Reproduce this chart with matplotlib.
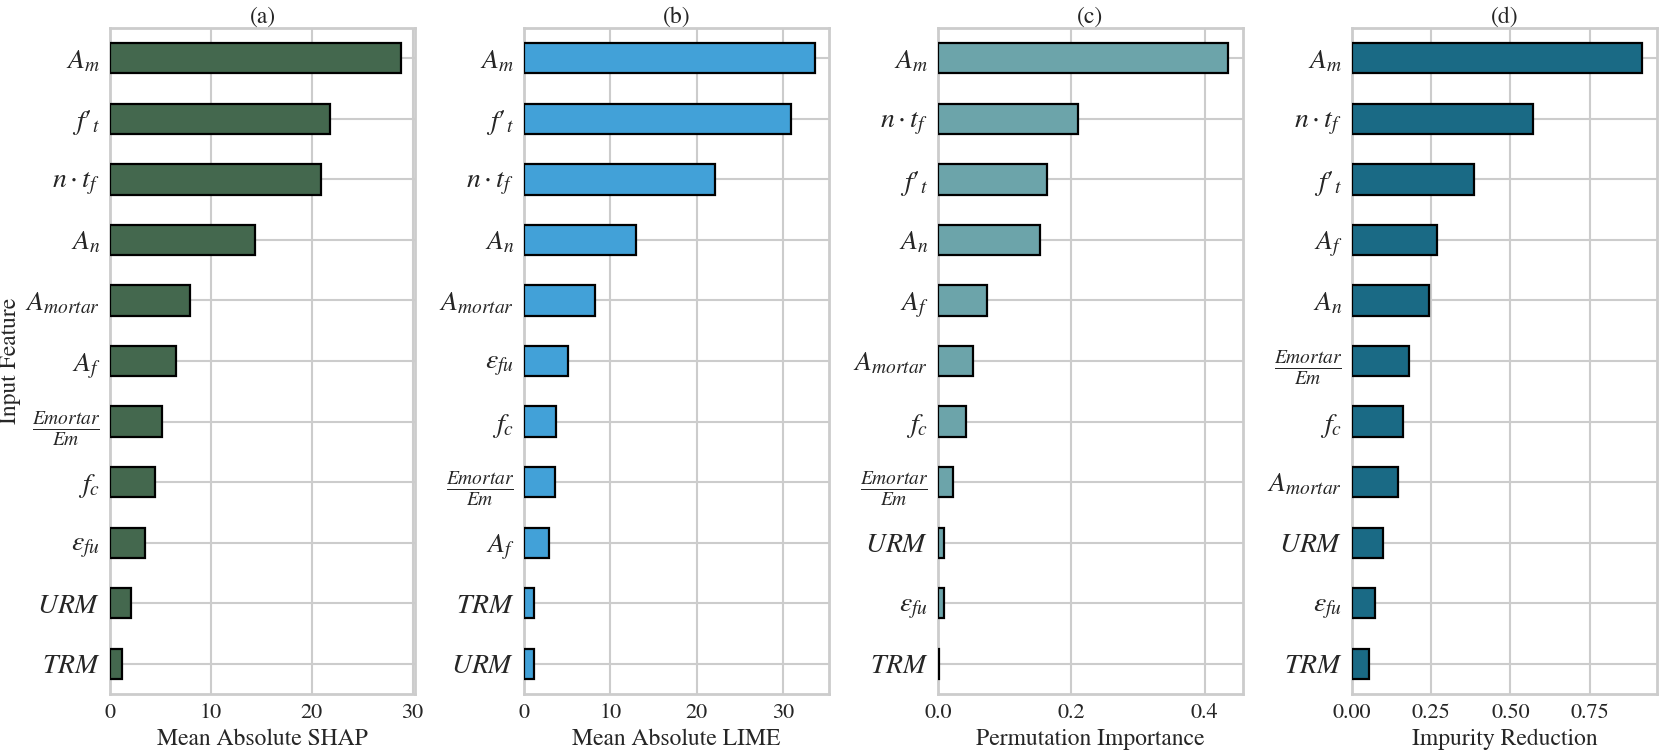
"""Four-panel feature importance comparison (SHAP, LIME, permutation, impurity)."""

import matplotlib

matplotlib.use("Agg")
import matplotlib.pyplot as plt
import seaborn as sns

FT = r"$f\prime{}_t$"

# labels and values, listed top to bottom as they appear in each panel
shap_features = [r"$A_m$", FT, r"$n \cdot t_f$", r"$A_n$", r"$A_{mortar}$", r"$A_f$",
                 r"$\frac{Emortar}{Em}$", r"$f_c$", r"$\varepsilon_{fu}$", r"$URM$", r"$TRM$"]
shap_values = [28.8, 21.8, 20.9, 14.4, 7.9, 6.5, 5.2, 4.5, 3.5, 2.1, 1.15]

lime_features = [r"$A_m$", FT, r"$n \cdot t_f$", r"$A_n$", r"$A_{mortar}$",
                 r"$\varepsilon_{fu}$", r"$f_c$", r"$\frac{Emortar}{Em}$", r"$A_f$", r"$TRM$", r"$URM$"]
lime_values = [33.6, 30.9, 22.1, 12.9, 8.2, 5.05, 3.7, 3.55, 2.9, 1.2, 1.15]

perm_features = [r"$A_m$", r"$n \cdot t_f$", FT, r"$A_n$", r"$A_f$", r"$A_{mortar}$",
                 r"$f_c$", r"$\frac{Emortar}{Em}$", r"$URM$", r"$\varepsilon_{fu}$", r"$TRM$"]
perm_values = [0.436, 0.21, 0.164, 0.153, 0.073, 0.052, 0.042, 0.023, 0.0095, 0.0085, 0.002]

imp_features = [r"$A_m$", r"$n \cdot t_f$", FT, r"$A_f$", r"$A_n$", r"$\frac{Emortar}{Em}$",
                r"$f_c$", r"$A_{mortar}$", r"$URM$", r"$\varepsilon_{fu}$", r"$TRM$"]
imp_values = [0.917, 0.573, 0.384, 0.267, 0.242, 0.181, 0.162, 0.145, 0.097, 0.073, 0.053]

panels = [
    ("(a)", "Mean Absolute SHAP", shap_features, shap_values, "#44684e"),
    ("(b)", "Mean Absolute LIME", lime_features, lime_values, "#42a1d8"),
    ("(c)", "Permutation Importance", perm_features, perm_values, "#6ca4aa"),
    ("(d)", "Impurity Reduction", imp_features, imp_values, "#1a6a85"),
]

sns.set_style("whitegrid")
plt.rcParams["font.family"] = ["STIXGeneral", "Liberation Serif", "DejaVu Serif"]
plt.rcParams["mathtext.fontset"] = "stix"
plt.rcParams["axes.edgecolor"] = "#cccccc"
plt.rcParams["axes.linewidth"] = 2.0
plt.rcParams["grid.color"] = "#cccccc"
plt.rcParams["grid.linewidth"] = 1.5

fig, axes = plt.subplots(1, 4, figsize=(16.61, 7.51), dpi=100)
fig.subplots_adjust(left=0.0662, right=0.9976, top=0.9627, bottom=0.0759, wspace=0.357)

for ax, (title, xlabel, feats, vals, color) in zip(axes, panels):
    y = list(range(len(feats)))[::-1]
    ax.barh(y, vals, height=0.5, color=color, edgecolor="black", linewidth=1.6, zorder=3)
    ax.set_yticks(y)
    ax.set_yticklabels(feats, fontsize=20)
    ax.set_ylim(-0.5, len(feats) - 0.5)
    ax.set_xlim(0, max(vals) * 1.05)
    ax.tick_params(axis="x", labelsize=16)
    ax.set_title(title, fontsize=17, pad=4)
    ax.set_xlabel(xlabel, fontsize=17)
    ax.set_axisbelow(True)

axes[0].set_ylabel("Input Feature", fontsize=17)
axes[0].yaxis.set_label_coords(-0.29, 0.5)

fig.savefig("out.png", dpi=100)
